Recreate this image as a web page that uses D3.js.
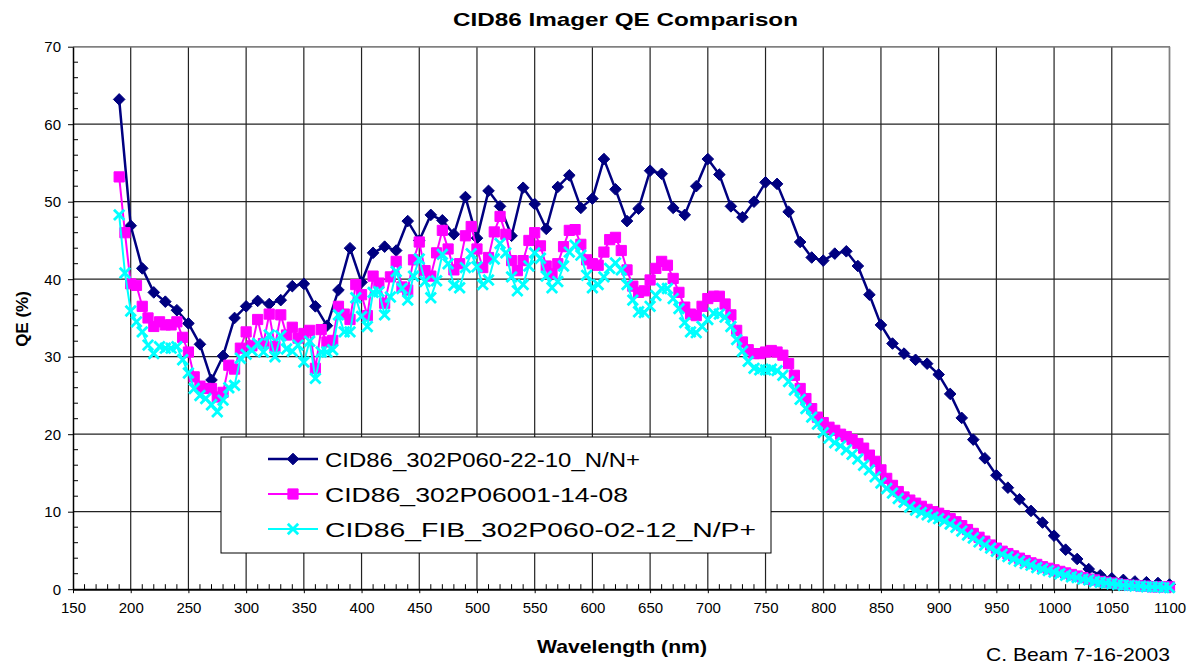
<!DOCTYPE html>
<html>
<head>
<meta charset="utf-8">
<script src="https://cdn.jsdelivr.net/npm/d3@7"></script>
<style>
  body { margin: 0; background: #fff; }
  text { font-family: Arial, "Liberation Sans", sans-serif; }
</style>
</head>
<body>
<svg></svg>
<script>
// wavelength grids (nm) - blue sampled every 10 nm, the other two every 5 nm
var wl10 = d3.range(190, 1101, 10);
var wl5 = d3.range(190, 1101, 5);

var seriesNames = ["CID86_302P060-22-10_N/N+", "CID86_302P06001-14-08", "CID86_FIB_302P060-02-12_N/P+"];

var qeNN = [
  63.2, 46.9, 41.4, 38.3, 37.1, 36.0, 34.3, 31.6, 27.0, 30.1,
  35.0, 36.5, 37.2, 36.8, 37.3, 39.1, 39.4, 36.5, 34.0, 38.6,
  44.0, 39.6, 43.4, 44.2, 43.7, 47.5, 45.0, 48.3, 47.6, 45.8,
  50.6, 45.3, 51.4, 49.4, 45.6, 51.8, 49.7, 46.5, 51.9, 53.4,
  49.2, 50.4, 55.5, 51.6, 47.5, 49.1, 54.0, 53.6, 49.2, 48.3,
  52.0, 55.5, 53.5, 49.4, 48.0, 50.0, 52.5, 52.3, 48.7, 44.8,
  42.8, 42.4, 43.3, 43.6, 41.7, 38.0, 34.1, 31.7, 30.4, 29.6,
  29.1, 27.7, 25.2, 22.1, 19.3, 16.9, 14.7, 13.1, 11.6, 10.1,
  8.6, 6.9, 5.1, 3.9, 2.6, 1.8, 1.4, 1.2, 1.0, 0.9,
  0.8, 0.6
];

var qe1408 = [
  53.2, 46.0, 39.4, 39.2, 36.5, 35.0, 33.9, 34.5, 34.1, 34.1,
  34.5, 32.5, 30.6, 27.4, 26.2, 25.9, 25.9, 24.8, 25.4, 28.9,
  28.4, 31.1, 33.2, 31.4, 34.8, 31.7, 35.5, 31.3, 35.4, 32.8,
  33.8, 32.4, 33.0, 33.4, 28.5, 33.5, 31.9, 32.1, 36.5, 35.5,
  34.8, 39.3, 38.0, 35.3, 40.4, 39.5, 36.9, 40.3, 42.3, 39.0,
  38.6, 42.5, 44.8, 41.1, 40.4, 43.4, 46.3, 43.9, 41.2, 42.0,
  45.6, 46.8, 43.9, 41.5, 42.8, 46.1, 48.1, 45.8, 42.4, 41.1,
  42.4, 45.0, 46.0, 44.3, 41.7, 40.7, 42.0, 44.2, 46.3, 46.4,
  44.5, 42.5, 42.0, 41.8, 43.5, 45.1, 45.4, 43.7, 41.2, 39.1,
  38.3, 38.5, 39.9, 41.4, 42.3, 41.8, 40.1, 38.3, 36.4, 35.5,
  35.3, 36.5, 37.5, 37.8, 37.8, 36.8, 35.4, 33.4, 31.9, 30.9,
  30.4, 30.4, 30.6, 30.8, 30.6, 30.2, 29.1, 27.6, 25.9, 24.6,
  23.3, 22.2, 21.5, 20.9, 20.5, 20.0, 19.7, 19.3, 18.8, 18.2,
  17.3, 16.5, 15.4, 14.3, 13.4, 12.6, 11.9, 11.5, 11.1, 10.7,
  10.3, 10.0, 9.8, 9.5, 9.1, 8.7, 8.2, 7.7, 7.2, 6.7,
  6.2, 5.7, 5.3, 4.9, 4.6, 4.3, 4.0, 3.7, 3.4, 3.2,
  2.9, 2.7, 2.5, 2.3, 2.1, 1.9, 1.7, 1.5, 1.3, 1.2,
  1.0, 0.9, 0.8, 0.7, 0.6, 0.5, 0.5, 0.4, 0.4, 0.3,
  0.3, 0.3, 0.3
];

var qeFIB = [
  48.3, 40.8, 35.9, 34.5, 33.2, 31.5, 30.4, 31.3, 31.1, 31.1,
  31.3, 29.6, 27.9, 25.9, 25.0, 24.6, 23.8, 22.9, 24.4, 26.0,
  26.3, 29.8, 30.3, 30.8, 31.7, 30.6, 32.8, 30.0, 32.7, 31.0,
  30.7, 31.5, 29.3, 32.0, 27.2, 30.6, 30.6, 30.9, 35.4, 33.2,
  33.2, 37.6, 35.2, 33.9, 38.3, 38.4, 35.4, 37.7, 41.0, 38.8,
  37.3, 40.4, 42.6, 39.7, 37.6, 39.8, 43.2, 42.0, 39.2, 38.9,
  41.5, 43.3, 41.6, 39.3, 39.9, 42.6, 44.6, 43.4, 40.3, 38.5,
  39.3, 41.7, 43.4, 42.7, 40.4, 38.9, 39.7, 41.7, 43.5, 44.4,
  43.1, 40.5, 38.9, 39.3, 40.3, 41.4, 42.1, 41.2, 39.3, 37.3,
  35.8, 35.7, 36.5, 37.9, 38.8, 38.8, 37.5, 36.2, 34.4, 33.2,
  33.1, 33.9, 34.8, 35.6, 35.5, 35.1, 33.9, 32.2, 30.7, 29.4,
  28.5, 28.3, 28.3, 28.4, 28.2, 27.6, 26.8, 25.7, 24.5, 23.3,
  22.2, 21.3, 20.2, 19.5, 18.9, 18.5, 18.0, 17.4, 16.8, 16.0,
  15.4, 14.5, 13.7, 13.0, 12.4, 11.7, 11.2, 10.6, 10.2, 9.9,
  9.6, 9.3, 9.1, 8.8, 8.4, 8.0, 7.5, 7.0, 6.6, 6.1,
  5.7, 5.3, 4.9, 4.5, 4.2, 3.9, 3.6, 3.3, 3.1, 2.8,
  2.6, 2.4, 2.2, 2.0, 1.8, 1.6, 1.5, 1.3, 1.2, 1.0,
  0.9, 0.8, 0.7, 0.6, 0.5, 0.5, 0.4, 0.4, 0.3, 0.3,
  0.3, 0.2, 0.2
];

var xTicks = [150, 200, 250, 300, 350, 400, 450, 500, 550, 600, 650, 700, 750, 800, 850, 900, 950, 1000, 1050, 1100];
var yTicks = [0, 10, 20, 30, 40, 50, 60, 70];

var drawChart = function()
{
  var width = 1194;
  var height = 668;
  var plotLeft = 73, plotRight = 1169.5, plotTop = 46.7, plotBottom = 589.2;

  var svg = d3.select("svg")
              .attr("width", width)
              .attr("height", height);

  var x = d3.scaleLinear().domain([150, 1100]).range([plotLeft, plotRight]);
  var y = d3.scaleLinear().domain([0, 70]).range([plotBottom, plotTop]);

  /*gridlines*/
  svg.append("g")
     .selectAll("line")
     .data(xTicks.slice(1))
     .enter()
     .append("line")
     .attr("x1", function(d) { return x(d); })
     .attr("x2", function(d) { return x(d); })
     .attr("y1", plotTop)
     .attr("y2", plotBottom)
     .attr("stroke", "#222")
     .attr("stroke-width", 1.2);

  svg.append("g")
     .selectAll("line")
     .data(yTicks.slice(1))
     .enter()
     .append("line")
     .attr("x1", plotLeft)
     .attr("x2", plotRight)
     .attr("y1", function(d) { return y(d); })
     .attr("y2", function(d) { return y(d); })
     .attr("stroke", "#222")
     .attr("stroke-width", 1.2);

  /*plot area border top/right*/
  svg.append("line")
     .attr("x1", plotLeft).attr("x2", plotRight)
     .attr("y1", plotTop).attr("y2", plotTop)
     .attr("stroke", "#808080").attr("stroke-width", 1.5);
  svg.append("line")
     .attr("x1", plotRight).attr("x2", plotRight)
     .attr("y1", plotTop).attr("y2", plotBottom)
     .attr("stroke", "#808080").attr("stroke-width", 1.5);

  /*axes: major ticks cross, minor ticks inside*/
  var yAxis = svg.append("g")
                 .attr("transform", "translate(" + plotLeft + ",0)")
                 .call(d3.axisLeft(y).tickValues(yTicks).tickSizeInner(5).tickSizeOuter(0).tickPadding(7));
  yAxis.select(".domain").attr("stroke", "#000").attr("stroke-width", 1.5);
  yAxis.selectAll("text").style("font-size", "15px").attr("fill", "#000");

  var xAxis = svg.append("g")
                 .attr("transform", "translate(0," + plotBottom + ")")
                 .call(d3.axisBottom(x).tickValues(xTicks).tickFormat(d3.format("d")).tickSizeInner(4).tickSizeOuter(0).tickPadding(9));
  xAxis.select(".domain").attr("stroke", "#000").attr("stroke-width", 2);
  xAxis.selectAll("text").style("font-size", "15px").attr("fill", "#000");

  svg.append("g")
     .selectAll("line")
     .data(d3.range(0, 71, 2).filter(function(d) { return d % 10 != 0; }))
     .enter()
     .append("line")
     .attr("x1", plotLeft)
     .attr("x2", plotLeft + 5)
     .attr("y1", function(d) { return y(d); })
     .attr("y2", function(d) { return y(d); })
     .attr("stroke", "#000");

  svg.append("g")
     .selectAll("line")
     .data(d3.range(150, 1101, 10).filter(function(d) { return d % 50 != 0; }))
     .enter()
     .append("line")
     .attr("x1", function(d) { return x(d); })
     .attr("x2", function(d) { return x(d); })
     .attr("y1", plotBottom)
     .attr("y2", plotBottom - 5)
     .attr("stroke", "#000");

  /*markers*/
  var diamond = "M0,-5.8L5.8,0L0,5.8L-5.8,0Z";
  var square = "M-5.1,-5.1H5.1V5.1H-5.1Z";
  var cross = "M-5.2,-5.2L5.2,5.2M-5.2,5.2L5.2,-5.2";

  var series = [
    { name: seriesNames[0], xs: wl10, ys: qeNN, color: "#000080", width: 2.5, marker: diamond, fill: true, len: 315 },
    { name: seriesNames[1], xs: wl5, ys: qe1408, color: "#FF00FF", width: 2, marker: square, fill: true, len: 303 },
    { name: seriesNames[2], xs: wl5, ys: qeFIB, color: "#00FFFF", width: 2, marker: cross, fill: false, len: 431 }
  ];

  var line = d3.line()
               .x(function(d) { return x(d[0]); })
               .y(function(d) { return y(d[1]); });

  series.forEach(function(s)
  {
    var pts = s.xs.map(function(w, i) { return [w, s.ys[i]]; });

    svg.append("path")
       .datum(pts)
       .attr("d", line)
       .attr("fill", "none")
       .attr("stroke", s.color)
       .attr("stroke-width", s.width)
       .attr("stroke-linejoin", "round");

    svg.append("g")
       .selectAll("path")
       .data(pts)
       .enter()
       .append("path")
       .attr("d", s.marker)
       .attr("transform", function(d) { return "translate(" + x(d[0]) + "," + y(d[1]) + ")"; })
       .attr("fill", s.fill ? s.color : "none")
       .attr("stroke", s.color)
       .attr("stroke-width", s.fill ? 1 : 2.8);
  });

  /*Add legend*/
  var legend = svg.append("g");

  legend.append("rect")
        .attr("x", 221)
        .attr("y", 437)
        .attr("width", 550)
        .attr("height", 116)
        .attr("fill", "#fff")
        .attr("stroke", "#000")
        .attr("stroke-width", 1);

  series.forEach(function(s, i)
  {
    var ly = 459 + i * 35;
    legend.append("line")
          .attr("x1", 268).attr("x2", 318)
          .attr("y1", ly).attr("y2", ly)
          .attr("stroke", s.color)
          .attr("stroke-width", s.width);
    legend.append("path")
          .attr("d", s.marker)
          .attr("transform", "translate(293," + ly + ")")
          .attr("fill", s.fill ? s.color : "none")
          .attr("stroke", s.color)
          .attr("stroke-width", s.fill ? 1 : 2.8);
    legend.append("text")
          .text(s.name)
          .attr("x", 325)
          .attr("y", ly + 8)
          .attr("textLength", s.len)
          .attr("lengthAdjust", "spacingAndGlyphs")
          .style("font-size", "21px");
  });

  /*titles*/
  svg.append("text")
     .text("CID86 Imager QE Comparison")
     .attr("x", 453)
     .attr("y", 26)
     .attr("textLength", 345)
     .attr("lengthAdjust", "spacingAndGlyphs")
     .style("font-size", "19px")
     .style("font-weight", "bold");

  svg.append("text")
     .text("Wavelength (nm)")
     .attr("x", 537)
     .attr("y", 653)
     .attr("textLength", 170)
     .attr("lengthAdjust", "spacingAndGlyphs")
     .style("font-size", "19px")
     .style("font-weight", "bold");

  svg.append("text")
     .text("QE (%)")
     .attr("transform", "translate(28,319) rotate(-90)")
     .attr("text-anchor", "middle")
     .style("font-size", "17px")
     .style("font-weight", "bold");

  svg.append("text")
     .text("C. Beam 7-16-2003")
     .attr("x", 986)
     .attr("y", 661)
     .attr("textLength", 184)
     .attr("lengthAdjust", "spacingAndGlyphs")
     .style("font-size", "19px");
}

drawChart();
</script>
</body>
</html>
